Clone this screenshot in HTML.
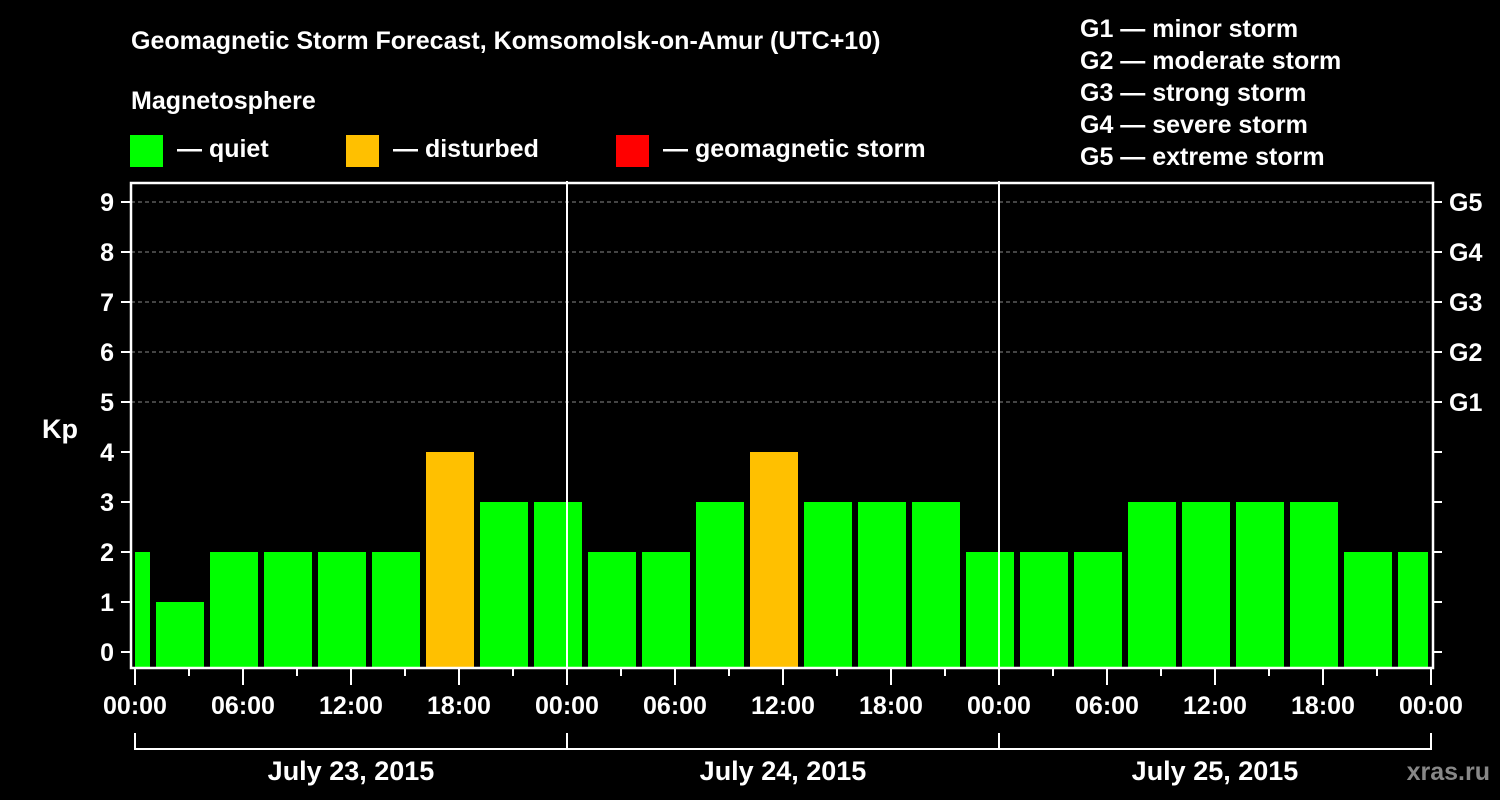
<!DOCTYPE html>
<html><head><meta charset="utf-8"><style>
body{margin:0;background:#000;width:1500px;height:800px;overflow:hidden}
svg{display:block;font-family:"Liberation Sans",Arial,sans-serif;font-weight:bold}
</style></head><body>
<svg id="chart" width="1500" height="800" viewBox="0 0 1500 800">
<text x="131" y="49" fill="#fff" font-size="25">Geomagnetic Storm Forecast, Komsomolsk-on-Amur (UTC+10)</text>
<text x="131" y="109" fill="#fff" font-size="25">Magnetosphere</text>
<rect x="130" y="135" width="33" height="32" fill="#00ff00"/>
<text x="177" y="157" fill="#fff" font-size="25">— quiet</text>
<rect x="346" y="135" width="33" height="32" fill="#ffc000"/>
<text x="393" y="157" fill="#fff" font-size="25">— disturbed</text>
<rect x="616" y="135" width="33" height="32" fill="#ff0000"/>
<text x="663" y="157" fill="#fff" font-size="25">— geomagnetic storm</text>
<g fill="#fff" font-size="25">
<text x="1080" y="37">G1 — minor storm</text>
<text x="1080" y="69">G2 — moderate storm</text>
<text x="1080" y="101">G3 — strong storm</text>
<text x="1080" y="133">G4 — severe storm</text>
<text x="1080" y="165">G5 — extreme storm</text>
</g>
<text x="42" y="438" fill="#fff" font-size="27">Kp</text>
<text x="1490" y="780" fill="#888" font-size="25" text-anchor="end">xras.ru</text>
<g id="grid"></g><g id="bars"></g><g id="axes"></g>
</svg>
<script>
const kpValues=[2,1,2,2,2,2,4,3,3,2,2,3,4,3,3,3,2,2,2,3,3,3,3,2,2];
const slotStartHours=-2; // first 3h slot starts at 22:00 previous day
const yTicks=[0,1,2,3,4,5,6,7,8,9];
const gLabels=["G1","G2","G3","G4","G5"];
const xTickLabels=["00:00","06:00","12:00","18:00","00:00","06:00","12:00","18:00","00:00","06:00","12:00","18:00","00:00"];
const dayLabels=["July 23, 2015","July 24, 2015","July 25, 2015"];
const NS="http://www.w3.org/2000/svg";
const L=131,R=1433,T=183,B=668,X0=135,PX_H=18;
const x=h=>X0+h*PX_H, y=v=>652-v*50;
function mk(tag,at,parent){const e=document.createElementNS(NS,tag);for(const k in at)e.setAttribute(k,at[k]);parent.appendChild(e);return e;}
const grid=document.getElementById('grid'),bars=document.getElementById('bars'),axes=document.getElementById('axes');
for(let v=5;v<=9;v++){const l=mk('line',{x1:L,x2:R,y1:y(v),y2:y(v),stroke:'#888','stroke-dasharray':'4,3','stroke-width':1},grid);

}
kpValues.forEach((v,i)=>{const h=slotStartHours+3*i;let x1=x(h)+3,x2=x(h+3)-3;x1=Math.max(x1,X0);x2=Math.min(x2,R-5);
const c=v>=5?'#ff0000':(v>=4?'#ffc000':'#00ff00');
const r=mk('rect',{x:x1,y:y(v),width:x2-x1,height:B-1-y(v),fill:c},bars);

});
const fr=mk('rect',{x:L,y:T,width:R-L,height:B-T,fill:'none',stroke:'#fff','stroke-width':2.5},axes);


[24,48].forEach(h=>{const l=mk('line',{x1:x(h),x2:x(h),y1:181,y2:B,stroke:'#fff','stroke-width':2},axes);

});
yTicks.forEach(v=>{mk('line',{x1:121,x2:L,y1:y(v),y2:y(v),stroke:'#fff','stroke-width':2},axes);
mk('line',{x1:R,x2:1442,y1:y(v),y2:y(v),stroke:'#fff','stroke-width':2},axes);
const t=mk('text',{x:114,y:y(v)+9,fill:'#fff','font-size':25,'text-anchor':'end'},axes);t.textContent=v;

});
gLabels.forEach((g,i)=>{const t=mk('text',{x:1449,y:y(5+i)+9,fill:'#fff','font-size':25},axes);t.textContent=g;

});
for(let h=0;h<=72;h+=3){const major=h%6===0;mk('line',{x1:x(h),x2:x(h),y1:B,y2:major?685:676,stroke:'#fff','stroke-width':2},axes);}
xTickLabels.forEach((s,i)=>{const t=mk('text',{x:x(i*6),y:714,fill:'#fff','font-size':25,'text-anchor':'middle'},axes);t.textContent=s;

});
const br=mk('polyline',{points:`${x(0)},733 ${x(0)},749 ${x(72)},749 ${x(72)},733`,fill:'none',stroke:'#fff','stroke-width':2},axes);


[24,48].forEach(h=>mk('line',{x1:x(h),x2:x(h),y1:733,y2:749,stroke:'#fff','stroke-width':2},axes));
dayLabels.forEach((d,i)=>{const t=mk('text',{x:x(i*24+12),y:780,fill:'#fff','font-size':27,'text-anchor':'middle'},axes);t.textContent=d;

});
</script>
</body></html>
